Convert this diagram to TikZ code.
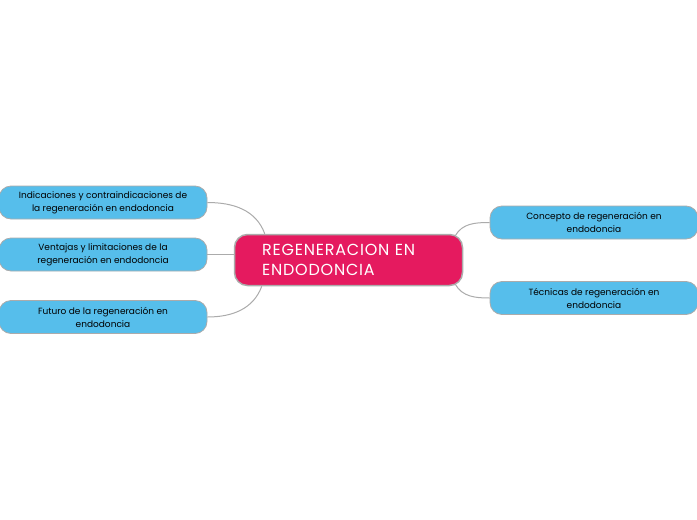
\documentclass[tikz,border=0pt]{standalone}
\usepackage{fontspec}
\setmainfont{Poppins}
\usetikzlibrary{calc}
\definecolor{regpink}{HTML}{E51A5F}
\definecolor{topicblue}{HTML}{56BEEB}
\definecolor{linegray}{HTML}{ABABAB}
\tikzset{
  mainbox/.style={draw=linegray, line width=1.5pt, fill=regpink, rounded corners=13pt,
    minimum width=228pt, minimum height=51pt, text=white, align=left,
    font=\fontsize{16}{20}\selectfont\addfontfeature{LetterSpace=5}, text width=173pt, inner xsep=0pt},
  topicbox/.style={draw=linegray, line width=0.8pt, fill=topicblue, rounded corners=12pt,
    minimum width=208pt, minimum height=33pt, align=center,
    font=\fontsize{9}{13}\selectfont},
  link/.style={draw=linegray, line width=1pt}
}
\begin{document}
\begin{tikzpicture}[x=1pt,y=-1pt]
  \useasboundingbox (0,0) rectangle (697,520);
  % central topic
  \node[mainbox] (reg) at (348.5,260) {REGENERACION EN\\ENDODONCIA};
  % left topics
  \node[topicbox] (ind) at (103,202.5) {Indicaciones y contraindicaciones de\\la regeneración en endodoncia};
  \node[topicbox] (ven) at (103,254.5) {Ventajas y limitaciones de la\\regeneración en endodoncia};
  \node[topicbox] (fut) at (103,317) {Futuro de la regeneración en\\endodoncia};
  % right topics
  \node[topicbox] (con) at (594,222.5) {Concepto de regeneración en\\endodoncia};
  \node[topicbox] (tec) at (594,298) {Técnicas de regeneración en\\endodoncia};

  \draw[link] (ind.east) to[out=0,in=110] ([xshift=31pt]reg.north west);
  \draw[link] (ven.east) -- (ven.east -| reg.west);
  \draw[link] (fut.east) to[out=0,in=-110] ([xshift=28pt]reg.south west);
  \draw[link] ([xshift=-8pt,yshift=-2pt]reg.north east) to[out=60,in=180] (con.west);
  \draw[link] ([xshift=-8pt,yshift=2pt]reg.south east) to[out=-60,in=180] (tec.west);
\end{tikzpicture}
\end{document}
